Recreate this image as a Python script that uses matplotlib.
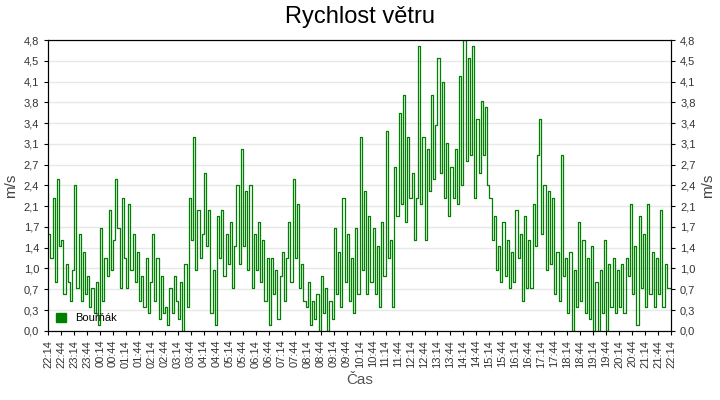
"""Rychlost větru — wind speed step chart"""
import matplotlib
matplotlib.use("Agg")
import matplotlib.pyplot as plt
import numpy as np

plt.rcParams["font.family"] = ["Liberation Sans", "DejaVu Sans"]

# 5-minute samples, starting 22:14
SPEED = [
    1.6, 1.2, 2.2, 0.8, 2.5, 1.4,  1.5, 0.6, 1.1, 0.8, 0.5, 1.0,
    2.4, 0.7, 1.6, 0.5, 1.3, 0.6,  0.9, 0.4, 0.7, 0.3, 0.8, 0.1,
    1.7, 0.5, 1.2, 0.9, 2.0, 1.0,  1.5, 2.5, 1.7, 0.7, 2.2, 1.2,
    0.7, 2.1, 1.0, 1.6, 0.8, 1.3,  0.5, 0.9, 0.4, 1.2, 0.3, 0.8,
    1.6, 0.5, 1.2, 0.2, 0.9, 0.3,  0.4, 0.1, 0.7, 0.3, 0.9, 0.5,
    0.2, 0.8, 0.0, 1.1, 0.4, 2.2,  1.5, 3.2, 1.0, 2.0, 1.2, 1.6,
    2.6, 1.4, 2.0, 0.3, 1.0, 0.1,  1.9, 1.2, 2.0, 0.9, 1.6, 1.1,
    1.8, 0.7, 1.4, 2.4, 1.1, 3.0,  1.4, 2.3, 1.0, 2.4, 0.7, 1.6,
    1.0, 1.8, 0.8, 1.5, 0.5, 1.2,  0.1, 1.2, 0.6, 1.0, 0.2, 0.9,
    1.3, 0.5, 1.2, 1.8, 0.8, 2.5,  1.2, 2.1, 0.7, 1.1, 0.5, 0.4,
    0.8, 0.1, 0.5, 0.2, 0.6, 0.0,  0.9, 0.3, 0.7, 0.0, 0.5, 0.2,
    1.7, 0.6, 1.3, 0.4, 2.2, 0.8,  1.6, 0.5, 1.2, 0.3, 1.7, 0.6,
    3.2, 1.0, 2.3, 0.6, 1.9, 0.8,  1.7, 0.6, 1.4, 0.4, 1.8, 0.9,
    3.3, 1.2, 1.5, 0.4, 2.7, 1.9,  3.6, 2.1, 3.9, 1.8, 3.2, 2.2,
    2.6, 1.5, 2.2, 4.7, 2.1, 3.2,  1.5, 3.0, 2.3, 3.9, 2.5, 3.4,
    4.5, 2.6, 4.1, 2.2, 3.1, 1.9,  2.7, 2.2, 3.0, 2.1, 4.2, 2.4,
    4.8, 2.8, 4.5, 2.9, 4.7, 2.2,  3.5, 2.6, 3.8, 2.9, 3.7, 2.4,
    2.2, 1.5, 1.9, 1.0, 1.4, 0.8,  1.8, 0.9, 1.5, 0.7, 1.3, 0.8,
    2.0, 1.2, 1.6, 0.5, 1.9, 0.7,  1.5, 0.7, 2.1, 1.4, 2.9, 3.5,
    1.6, 2.4, 1.0, 2.3, 1.1, 2.2,  0.6, 1.3, 0.5, 2.9, 0.9, 1.2,
    0.3, 1.3, 0.0, 1.0, 0.4, 1.8,  0.5, 1.5, 0.3, 1.2, 0.2, 1.4,
    0.0, 0.8, 0.0, 1.0, 0.3, 1.5,  0.0, 1.1, 0.4, 1.2, 0.3, 1.0,
    0.4, 1.1, 0.3, 1.2, 0.9, 2.1,  0.6, 1.4, 0.1, 1.9, 0.7, 1.6,
    0.4, 2.1, 0.6, 1.3, 0.4, 1.2,  0.6, 2.0, 0.4, 1.1, 0.7, 0.7,
]
STEP_MIN = 5
START_MIN = 22 * 60 + 14
TICK_EVERY = 30

y = np.array(SPEED + [SPEED[-1]])
x = np.arange(len(y)) * STEP_MIN

fig = plt.figure(figsize=(7.2, 4.0), dpi=100)
ax = fig.add_axes([0.067, 0.173, 0.865, 0.727])
ax.step(x, y, where="post", color="#008000", lw=0.9, label="Bouřňák")

ax.set_xlim(0, 1440)
ax.set_ylim(0, 4.8)
yt = np.linspace(0, 4.8, 15)
ylab = [f"{v:.1f}".replace(".", ",") for v in yt]
ax.set_yticks(yt)
ax.set_yticklabels(ylab)
ax.grid(axis="y", color="#e8e8e8", lw=1)
ax.set_axisbelow(True)

xt = np.arange(0, 1441, TICK_EVERY)
xl = [f"{((START_MIN + m) // 60) % 24:02d}:{(START_MIN + m) % 60:02d}" for m in xt]
ax.set_xticks(xt)
ax.set_xticklabels(xl, rotation=90, fontsize=8, color="#333333")
ax.tick_params(axis="y", labelsize=8, labelcolor="#333333", length=3)
ax.tick_params(axis="x", length=3)

ax2 = ax.twinx()
ax2.set_ylim(0, 4.8)
ax2.set_yticks(yt)
ax2.set_yticklabels(ylab)
ax2.tick_params(axis="y", labelsize=8, labelcolor="#333333", length=3)
ax2.set_ylabel("m/s", fontsize=11, color="#444444")

ax.set_ylabel("m/s", fontsize=11, color="#444444")
ax.set_xlabel("Čas", fontsize=11, color="#555555", labelpad=4)
fig.suptitle("Rychlost větru", fontsize=17, y=0.985)

handle = plt.Rectangle((0, 0), 1, 1, color="#008000")
ax.legend([handle], ["Bouřňák"], loc="lower left", frameon=False,
          fontsize=8, handlelength=0.9, handleheight=0.9, borderaxespad=0.3)

fig.savefig("out.png", dpi=100)
